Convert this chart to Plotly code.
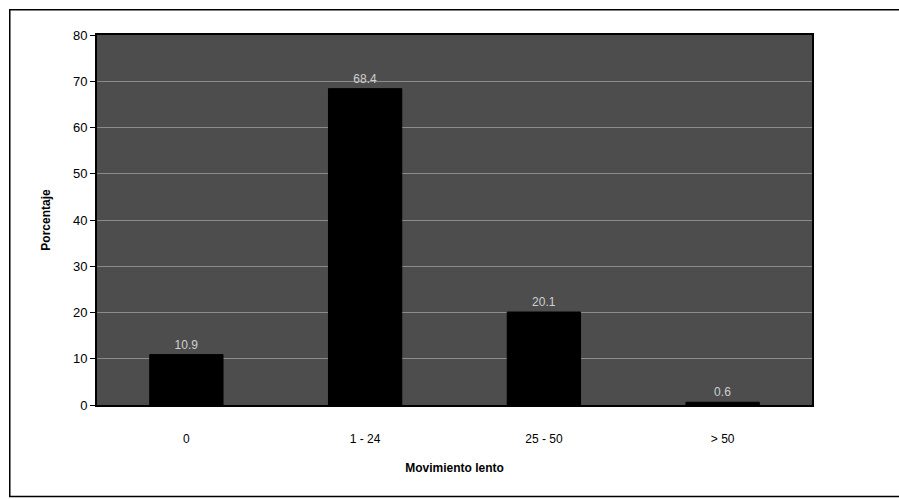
import plotly.graph_objects as go

categories = ["0", "1 - 24", "25 - 50", "> 50"]
values = [10.9, 68.4, 20.1, 0.6]
labels = ["10.9", "68.4", "20.1", "0.6"]
y_ticks = [0, 10, 20, 30, 40, 50, 60, 70, 80]

fig = go.Figure()
fig.add_trace(go.Bar(
    x=categories, y=values,
    marker=dict(color="#000000", line=dict(color="#000000", width=1)),
    text=labels, textposition="outside",
    textfont=dict(family="Arial, Liberation Sans", size=12, color="#d0d0d0"),
    cliponaxis=False,
    width=0.41,
))

fig.update_layout(
    width=899, height=499,
    margin=dict(l=97, r=87, t=35, b=94),
    paper_bgcolor="white",
    plot_bgcolor="#4d4d4d",
    showlegend=False,
    font=dict(family="Arial, Liberation Sans", color="black", size=12),
)
fig.update_xaxes(
    showline=True, linecolor="black", linewidth=2,
    ticks="outside", ticklen=22, tickcolor="rgba(0,0,0,0)",
    tickfont=dict(size=12),
    title=dict(text="<b>Movimiento lento</b>", font=dict(size=12), standoff=18),
    mirror=True,
)
fig.update_yaxes(
    range=[0, 80], tickvals=y_ticks,
    showgrid=True, gridcolor="#8c8c8c", gridwidth=1,
    showline=True, linecolor="black", linewidth=2, mirror=True,
    ticks="outside", ticklen=5, tickcolor="black",
    tickfont=dict(size=13),
    title=dict(text="<b>Porcentaje</b>", font=dict(size=12), standoff=20),
    zeroline=False,
)
fig.add_shape(type="rect", xref="paper", yref="paper",
              x0=-0.122, x1=1.2, y0=-0.247, y1=1.068,
              line=dict(color="black", width=1.5), layer="below")
fig.write_html("out.html")
